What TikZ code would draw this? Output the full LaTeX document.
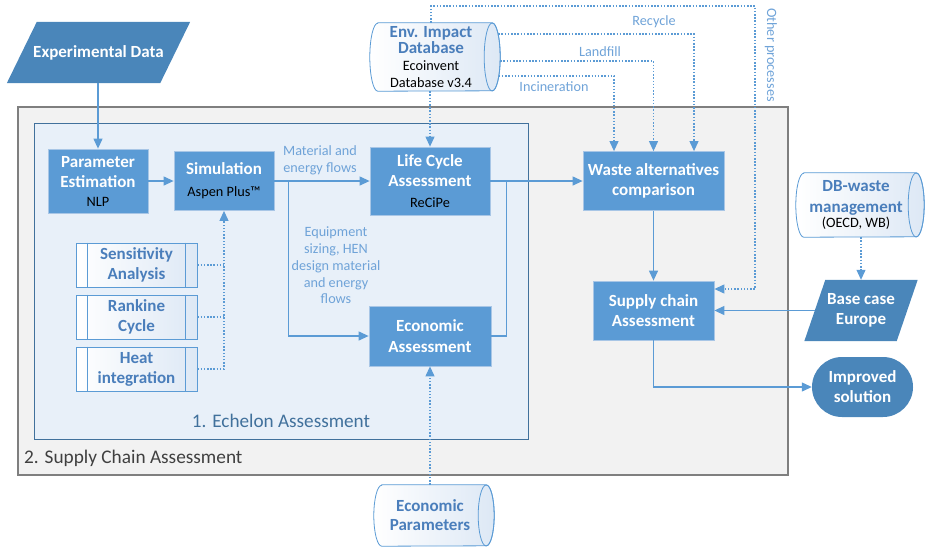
\documentclass[tikz,border=0pt]{standalone}
\usepackage{fontspec}
\setmainfont{Carlito}
\usetikzlibrary{arrows.meta,calc}
\definecolor{boxblue}{HTML}{5B9BD5}
\definecolor{boxborder}{HTML}{A8C6E6}
\definecolor{darkblue}{HTML}{4A86BA}
\definecolor{lineblue}{HTML}{5B9BD5}
\definecolor{txtblue}{HTML}{4A7EBB}
\definecolor{lblblue}{HTML}{6FA3D8}
\definecolor{echfill}{HTML}{E8F0F9}
\definecolor{echdraw}{HTML}{41719C}
\definecolor{scfill}{HTML}{F2F2F2}
\definecolor{scdraw}{HTML}{7F7F7F}
\definecolor{cylright}{HTML}{DDE8F5}
\definecolor{sctxt}{HTML}{404040}
\pgfdeclarelayer{shapes}
\pgfsetlayers{shapes,main}
\newcommand{\smallblack}[1]{{\fontsize{14.3}{15}\selectfont\mdseries\color{black}#1}}
\begin{document}
\begin{tikzpicture}[x=1pt,y=-1pt,
  box/.style={draw=boxborder, fill=boxblue, line width=0.8pt, text=white,
    font=\bfseries\fontsize{17}{20}\selectfont, align=center, inner sep=0pt},
  darkbox/.style={text=white, font=\bfseries\fontsize{17}{20}\selectfont, align=center, inner sep=0pt},
  procbox/.style={draw=lineblue, line width=0.8pt, left color=white, right color=cylright,
    text=txtblue, font=\bfseries\fontsize{17}{20}\selectfont, align=center, inner sep=0pt,
    minimum width=121pt, minimum height=44pt},
  cyltext/.style={text=txtblue, font=\bfseries\fontsize{17}{14.5}\selectfont, align=center, inner sep=0pt},
  cylshape/.style={draw=lineblue, line width=0.8pt, left color=white, right color=cylright},
  lbl/.style={text=lblblue, font=\fontsize{14.2}{16.8}\selectfont, align=center, inner sep=0pt},
  conn/.style={draw=lineblue, line width=1.2pt, -{Triangle[length=10pt,width=9pt]}},
  plain/.style={draw=lineblue, line width=1.2pt},
  dotconn/.style={conn, line width=1.1pt, dash pattern=on 1.5pt off 1.7pt},
  dotplain/.style={plain, line width=1.1pt, dash pattern=on 1.5pt off 1.7pt}
]
\useasboundingbox (0,0) rectangle (926,547);
% frames
\draw[fill=scfill, draw=scdraw, line width=1.2pt] (18,107) rectangle (788,475);
\node[anchor=west, text=sctxt, font=\fontsize{19.3}{20}\selectfont, inner sep=0pt] (sclbl) at (24,458) {2. Supply Chain Assessment};
\draw[fill=echfill, draw=echdraw, line width=1pt] (34,123) rectangle (528,439);
\node[text=echdraw, font=\fontsize{19.2}{20}\selectfont, inner sep=0pt] (echlbl) at (281,421) {1. Echelon Assessment};

% experimental data
\node[darkbox, minimum width=153pt, minimum height=61pt] (exp) at (98.5,52.5) {Experimental Data};
\begin{pgfonlayer}{shapes}
\fill[darkblue] ([xshift=15pt]exp.north west) -- ([xshift=15pt]exp.north east) -- ([xshift=-15pt]exp.south east) -- ([xshift=-15pt]exp.south west) -- cycle;
\end{pgfonlayer}

% main boxes
\node[box, minimum width=100pt, minimum height=64pt] (param) at (98,181) {Parameter\\Estimation\\[-1pt]\smallblack{NLP}};
\node[box, minimum width=100pt, minimum height=59pt] (sim) at (224,181) {Simulation\\[2pt]\smallblack{Aspen Plus™}};
\node[box, minimum width=120pt, minimum height=68pt] (lca) at (430,181) {Life Cycle\\Assessment\\[1pt]\smallblack{ReCiPe}};
\node[box, minimum width=122pt, minimum height=60pt] (econ) at (430,336) {Economic\\[1pt]Assessment};
\node[box, minimum width=141pt, minimum height=59pt] (waste) at (653.5,181) {Waste alternatives\\comparison};
\node[box, minimum width=121pt, minimum height=59pt] (sca) at (653.5,310.5) {Supply chain\\Assessment};

% process boxes
\node[procbox] (sens) at (136.5,265) {Sensitivity\\Analysis};
\node[procbox] (rank) at (136.5,317) {Rankine\\Cycle};
\node[procbox] (heat) at (136.5,369) {Heat\\integration};
\foreach \n in {sens,rank,heat}{
  \draw[lineblue, line width=0.8pt] ([xshift=12pt]\n.north west) -- ([xshift=12pt]\n.south west);
  \draw[lineblue, line width=0.8pt] ([xshift=-12pt]\n.north east) -- ([xshift=-12pt]\n.south east);
}

% cylinders
\node[cyltext, minimum width=122pt, minimum height=68pt] (envdb) at (431,57) {Env. Impact\\Database\\[3pt]\smallblack{Ecoinvent}\\[2.5pt]\smallblack{Database v3.4}};
\node[cyltext, minimum width=120pt, minimum height=64pt] (dbw) at (856,205) {DB-waste\\[6.5pt]management\\[1pt]\smallblack{(OECD, WB)}};
\node[cyltext, minimum width=112pt, minimum height=61pt] (ep) at (430,515.5) {Economic\\[4.5pt]Parameters};
\begin{pgfonlayer}{shapes}
\foreach \n/\h in {envdb/34,dbw/32,ep/30.5}{
  \path[cylshape] ([xshift=8pt]\n.north west) -- (\n.north east) arc[start angle=90,end angle=-90,x radius=8pt,y radius=\h pt] -- ([xshift=8pt]\n.south west) arc[start angle=270,end angle=90,x radius=8pt,y radius=\h pt] -- cycle;
  \draw[lineblue, line width=0.8pt] (\n.east) ellipse[x radius=8pt, y radius=\h pt];
}
\end{pgfonlayer}

% base case and improved
\node[darkbox, minimum width=92pt, minimum height=61pt] (base) at (861,310.5) {Base case\\Europe};
\begin{pgfonlayer}{shapes}
\fill[darkblue] ([xshift=10.5pt]base.north west) -- ([xshift=10.5pt]base.north east) -- ([xshift=-10.5pt]base.south east) -- ([xshift=-10.5pt]base.south west) -- cycle;
\end{pgfonlayer}
\node[darkbox, fill=darkblue, rounded corners=30pt, minimum width=101pt, minimum height=60pt] (imp) at (862.5,387) {Improved\\solution};

% connectors
\draw[conn] (param.north |- exp.south) -- (param.north);
\draw[conn] (param.east) -- (sim.west);
\draw[conn] (sim.east) -- (lca.west);
\draw[conn] ([xshift=14pt]sim.east) |- (econ.west);
\draw[plain] (econ.east) -| ([xshift=16pt]lca.east);
\draw[conn] (lca.east) -- (waste.west);
\draw[conn] (waste.south) -- (sca.north);
\draw[conn] (base.west) -- (sca.east);
\draw[conn] (sca.south) |- (imp.west);

\draw[dotplain] (sens.east) -- (sens.east -| sim.south);
\draw[dotplain] (rank.east) -- (rank.east -| sim.south);
\draw[dotconn] (heat.east) -| (sim.south);

\draw[dotconn] (lca.north |- envdb.south) -- (lca.north);
\draw[dotconn] (econ.south |- ep.north) -- (econ.south);
\draw[dotconn] (base.north |- dbw.south) -- (base.north);

\coordinate (optop) at (755,6);
\draw[dotconn] (envdb.north) |- (optop) |- ([yshift=21.5pt]sca.east);
\draw[dotconn] ([shift={(6pt,23pt)}]envdb.east) -| ([xshift=40.5pt]waste.north);
\draw[dotconn] ([shift={(8pt,-4pt)}]envdb.east) -| (waste.north);
\draw[dotconn] ([shift={(6.5pt,-19pt)}]envdb.east) -| ([xshift=-39.5pt]waste.north);

% labels
\node[lbl] (l1) at (320,160) {Material and\\energy flows};
\node[lbl] (l2) at (336,265.5) {Equipment\\sizing, HEN\\design material\\and energy\\flows};
\node[lbl] (l3) at (654,22) {Recycle};
\node[lbl] (l4) at (600,52) {Landfill};
\node[lbl] (l5) at (554,87) {Incineration};
\node[lbl, rotate=-90] (l6) at (771,55) {Other processes};
\end{tikzpicture}
\end{document}
